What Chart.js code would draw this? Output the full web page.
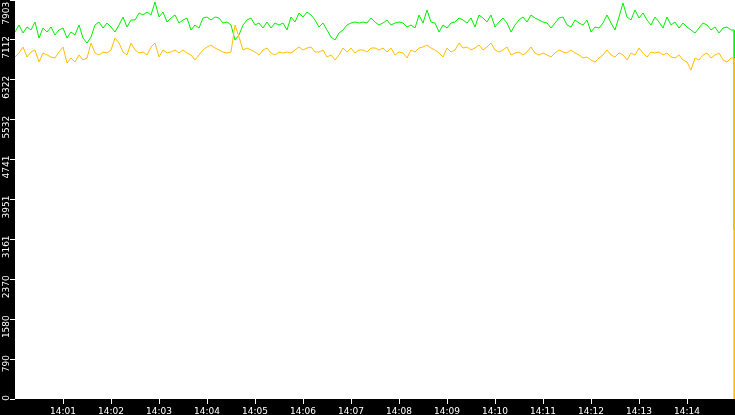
<!DOCTYPE html>
<html>
<head>
  <meta charset="UTF-8" />
  <title>14:00 - 14:15</title>
  <script src="https://cdn.jsdelivr.net/npm/chart.js"></script>
  <style>
    html, body { margin: 0; padding: 0; background: #000; }
    #wrap { width: 735px; height: 415px; }
  </style>
</head>
<body>
  <div id="wrap"><canvas id="grafico"></canvas></div>

  <script>
    // valores, uma amostra a cada 5 s a partir de 14:00:00
    const verde = [
      7269,7408,7249,7368,7309,7467,7150,7348,7269,7368,7210,7309,7348,7150,7269,7210,7408,7150,7051,7170,7408,7467,7348,7447,7368,7269,7408,7566,7368,7507,
      7507,7645,7606,7665,7606,7863,7566,7665,7467,7546,7606,7447,7507,7546,7309,7408,7348,7546,7566,7507,7566,7546,7447,7467,7408,7111,7210,7408,7507,7546,
      7408,7447,7348,7467,7348,7447,7408,7447,7309,7566,7467,7645,7566,7665,7606,7507,7368,7447,7309,7170,7111,7249,7309,7408,7447,7467,7447,7467,7447,7546,
      7467,7408,7447,7507,7408,7447,7467,7447,7368,7408,7348,7606,7447,7705,7467,7447,7269,7408,7348,7447,7467,7546,7507,7447,7546,7368,7606,7546,7467,7606,
      7368,7467,7546,7447,7269,7408,7507,7566,7467,7606,7546,7507,7467,7447,7348,7447,7546,7566,7408,7368,7507,7447,7408,7507,7269,7368,7348,7447,7606,7447,
      7309,7566,7844,7566,7507,7705,7546,7645,7507,7408,7566,7467,7348,7566,7408,7467,7348,7447,7368,7309,7249,7348,7447,7408,7309,7368,7249,7348,7368,7309
    ];
    const amarelo = [
      6774,6853,6972,6774,6873,6913,6675,6853,6814,6774,6754,6873,6972,6655,6754,6675,6814,6715,6754,7051,6853,6814,6873,6853,6913,7150,7051,6873,6814,7051,
      6913,6853,6873,6814,6972,7051,6774,6913,6853,6873,6913,6853,6913,6853,6814,6715,6814,6913,6972,7012,6952,6913,6873,6853,6873,7408,7170,6913,6952,6913,
      6873,6814,6913,6952,6853,6814,6873,6853,6873,6853,6913,6972,6913,6952,6972,6873,6873,6913,6774,6814,6715,6814,6952,6873,6952,6853,6913,6913,6873,6952,
      6952,6913,6952,6873,6952,6814,6873,6853,6754,6913,6873,6952,6972,7012,6952,6913,6853,6774,6952,6873,6913,7051,6952,6972,6913,6952,7012,6913,6972,7051,
      6913,6873,6913,6972,6814,6853,6873,6814,6873,6972,6853,6814,6853,6814,6774,6853,6913,6873,6853,6913,6853,6814,6754,6774,6715,6675,6754,6814,6913,6814,
      6774,6853,6814,6715,6853,6814,6952,6853,6774,6873,6853,6873,6814,6853,6774,6754,6814,6715,6675,6516,6754,6715,6814,6853,6754,6814,6853,6715,6675,6754
    ];
    // queda no último segundo (14:14:59): antes e depois
    const verdeFim = [7309, 3347];
    const amareloFim = [6754, 0];
    const passo = 5;
    const instanteFim = 899;
    const minutos = ['14:01','14:02','14:03','14:04','14:05','14:06','14:07','14:08','14:09','14:10','14:11','14:12','14:13','14:14'];
    const rotulosY = ['0','790','1580','2370','3161','3951','4741','5532','6322','7112','7903  '];
    const maxY = 7903;

    const pontos = (serie, fim) => serie.map((v, i) => ({ x: i * passo, y: v }))
      .concat(fim.map(v => ({ x: instanteFim, y: v })));

    // fundo preto nos eixos e branco na área do gráfico
    const fundo = {
      id: 'fundo',
      beforeDraw(chart) {
        const { ctx, chartArea: a } = chart;
        ctx.save();
        ctx.fillStyle = '#000';
        ctx.fillRect(0, 0, chart.width, chart.height);
        ctx.fillStyle = '#fff';
        ctx.fillRect(a.left, a.top, a.right - a.left, a.bottom - a.top);
        ctx.restore();
      }
    };

    const semMargem = (scale, tam) => {
      scale.paddingTop = 0; scale.paddingBottom = 0;
      scale.paddingLeft = 0; scale.paddingRight = 0;
      if (scale.isHorizontal()) scale.height = tam; else scale.width = tam;
    };

    new Chart(document.getElementById('grafico'), {
      type: 'line',
      data: {
        datasets: [
          { label: 'amarelo', data: pontos(amarelo, amareloFim), borderColor: '#ffc000', borderWidth: 1, pointRadius: 0, tension: 0 },
          { label: 'verde', data: pontos(verde, verdeFim), borderColor: '#00f000', borderWidth: 1, pointRadius: 0, tension: 0 }
        ]
      },
      options: {
        responsive: true,
        maintainAspectRatio: false,
        animation: false,
        layout: { padding: 0 },
        plugins: { legend: { display: false }, tooltip: { enabled: false } },
        scales: {
          x: {
            type: 'linear',
            min: 0,
            max: 900,
            afterBuildTicks: s => { s.ticks = minutos.map((_, i) => ({ value: (i + 1) * 60 })); },
            afterFit: s => semMargem(s, 16),
            border: { display: false },
            grid: { drawOnChartArea: false, drawTicks: true, tickLength: 5, color: '#fff' },
            ticks: {
              color: '#fff',
              font: { family: 'DejaVu Sans', size: 9 },
              padding: 2,
              autoSkip: false,
              maxRotation: 0,
              callback: (v, i) => minutos[i]
            }
          },
          y: {
            min: 0,
            max: maxY,
            afterBuildTicks: s => { s.ticks = rotulosY.map((_, i) => ({ value: maxY * i / 10 })); },
            afterFit: s => semMargem(s, 15),
            border: { display: false },
            grid: { drawOnChartArea: false, drawTicks: true, tickLength: 5, color: '#fff' },
            ticks: {
              color: '#fff',
              font: { family: 'DejaVu Sans', size: 9 },
              padding: 3,
              labelOffset: -4,
              minRotation: 90,
              maxRotation: 90,
              callback: (v, i) => rotulosY[i]
            }
          }
        }
      },
      plugins: [fundo]
    });
  </script>
</body>
</html>
